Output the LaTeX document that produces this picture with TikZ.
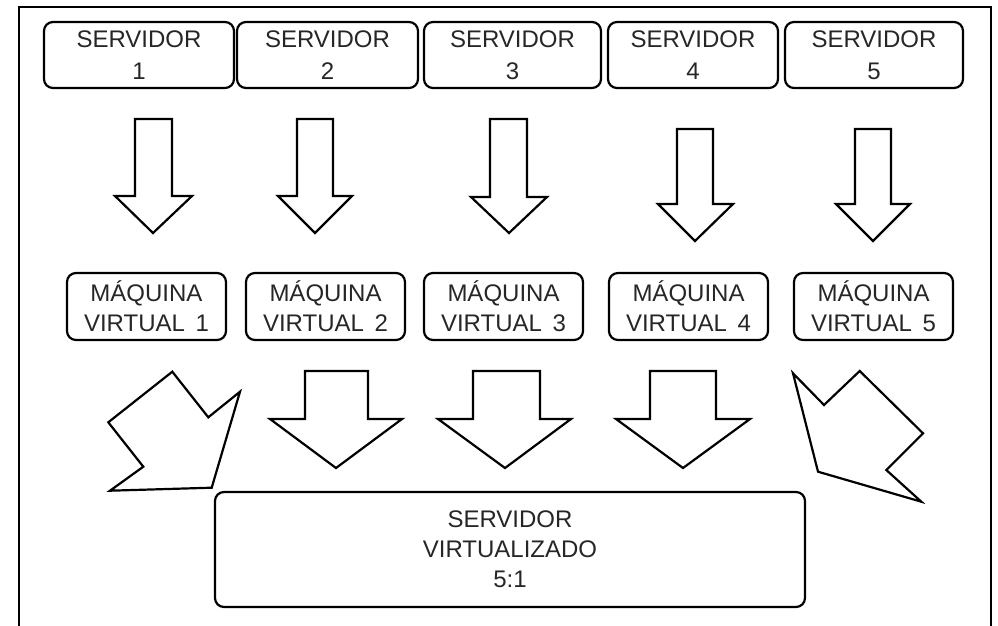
\documentclass[tikz,border=0pt]{standalone}
\usepackage{fontspec}
\setmainfont{Liberation Sans}
\begin{document}
\begin{tikzpicture}[x=1pt,y=-1pt,
  box/.style={draw=black, line width=2.2pt, rounded corners=9pt, inner sep=0pt, align=center, text=black!85},
  srv/.style={box, minimum height=66pt, font=\fontsize{24}{32}\selectfont},
  vm/.style={box, minimum height=67pt, minimum width=159pt, font=\fontsize{24}{30}\selectfont},
  big/.style={box, font=\fontsize{24}{30}\selectfont},
  blockarrow/.style={draw=black, line width=2.2pt, fill=white, line join=miter},
  frame/.style={draw=black, line width=2pt}]
\useasboundingbox (0,0) rectangle (998,626);
\draw[frame] (19,630) -- (19,7) -- (991,7) -- (991,630);

\node[srv, minimum width=190pt] (s1) at (139,55) {SERVIDOR\\1};
\node[srv, minimum width=181pt] (s2) at (327.5,55) {SERVIDOR\\2};
\node[srv, minimum width=177pt] (s3) at (512.5,55) {SERVIDOR\\3};
\node[srv, minimum width=170pt] (s4) at (693,55) {SERVIDOR\\4};
\node[srv, minimum width=178pt] (s5) at (874,55) {SERVIDOR\\5};

\node[vm] (v1) at (146.5,306.5) {MÁQUINA\\VIRTUAL\hspace{4pt} 1};
\node[vm] (v2) at (325.5,306.5) {MÁQUINA\\VIRTUAL\hspace{4pt} 2};
\node[vm] (v3) at (503.5,306.5) {MÁQUINA\\VIRTUAL\hspace{4pt} 3};
\node[vm] (v4) at (688.5,306.5) {MÁQUINA\\VIRTUAL\hspace{4pt} 4};
\node[vm] (v5) at (873.5,306.5) {MÁQUINA\\VIRTUAL\hspace{4pt} 5};

\node[big, minimum width=590pt, minimum height=115pt] (sv) at (510,549.5) {SERVIDOR\\VIRTUALIZADO\\5:1};

% top row arrows
\draw[blockarrow] (135,119) -- (172,119) -- (172,196) -- (192,196) -- (153,233) -- (115,196) -- (135,196) -- cycle;
\draw[blockarrow] (297,119) -- (333,119) -- (333,196) -- (352,196) -- (315,233) -- (278,196) -- (297,196) -- cycle;
\draw[blockarrow] (490,119) -- (527,119) -- (527,197) -- (547,197) -- (509,233) -- (471,197) -- (490,197) -- cycle;
\draw[blockarrow] (677,129) -- (713,129) -- (713,204) -- (733,204) -- (695,241) -- (658,204) -- (677,204) -- cycle;
\draw[blockarrow] (855,129) -- (891,129) -- (891,204) -- (910,204) -- (873,241) -- (836,204) -- (855,204) -- cycle;

% bottom row arrows
\draw[blockarrow] (172.3,371.7) -- (208.3,417.3) -- (240,391.7) -- (211.7,487.7) -- (110,490.7) -- (143.3,466.7) -- (108.3,422.3) -- cycle;
\draw[blockarrow] (305,371) -- (368,371) -- (368,419) -- (402,419) -- (336,468) -- (270,419) -- (305,419) -- cycle;
\draw[blockarrow] (473,371) -- (540,371) -- (540,419) -- (571,419) -- (505,468) -- (438,419) -- (473,419) -- cycle;
\draw[blockarrow] (650,371) -- (716,371) -- (716,419) -- (750,419) -- (683,468) -- (616,419) -- (650,419) -- cycle;
\draw[blockarrow] (859.7,371) -- (923,433.3) -- (886.3,470) -- (921.3,501.7) -- (818,471.7) -- (793,373.3) -- (824,405) -- cycle;
\end{tikzpicture}
\end{document}
